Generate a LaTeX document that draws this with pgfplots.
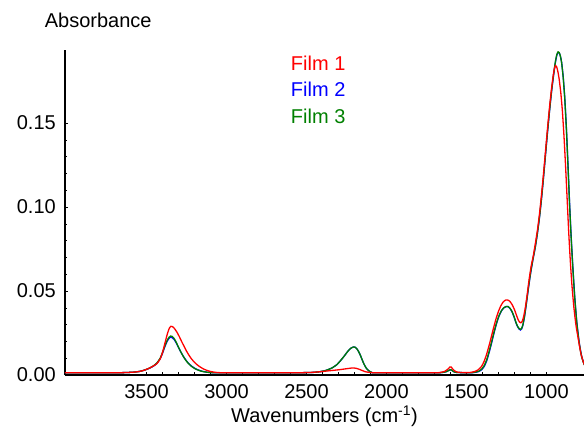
\documentclass[border=0pt]{standalone}
\usepackage{pgfplots}
\pgfplotsset{compat=1.18}
\usepackage{fontspec}
\setmainfont{Liberation Sans}
\definecolor{filmred}{RGB}{255,0,0}
\definecolor{filmblue}{RGB}{0,0,255}
\definecolor{filmgreen}{RGB}{0,128,0}
\begin{document}
\begin{tikzpicture}[font=\fontsize{20bp}{24bp}\selectfont]
\path[use as bounding box] (0,0) rectangle (584bp,428bp);
\begin{axis}[
  at={(65bp,53bp)}, anchor=south west,
  scale only axis, width=519bp, height=325bp,
  x dir=reverse, xmin=765, xmax=4010, ymin=0, ymax=0.1935,
  axis x line*=bottom, axis y line*=left,
  axis line style={line width=2.2bp, -},
  clip=true,
  xtick={1000,1500,2000,2500,3000,3500},
  minor x tick num=4,
  ytick={0,0.05,0.10,0.15},
  minor y tick num=4,
  tick align=inside,
  major tick length=3bp, minor tick length=2.5bp,
  tick style={black, line width=0.6bp},
  /pgf/number format/assume math mode=true,
  xticklabel shift=9bp,
  x tick label style={/pgf/number format/set thousands separator={}, inner sep=0pt, anchor=north},
  y tick label style={/pgf/number format/fixed, /pgf/number format/fixed zerofill, /pgf/number format/precision=2, inner sep=0pt, anchor=east, xshift=-9bp},
  scaled y ticks=false,
  xlabel={Wavenumbers (cm\textsuperscript{-1})},
  ylabel={Absorbance},
  every axis x label/.style={at={(axis description cs:0.5,-0.127)}, anchor=center},
  every axis y label/.style={at={(axis description cs:0.064,1.092)}, anchor=center},
  legend style={at={(axis description cs:0.435,0.982)}, anchor=north west, draw=none, fill=none, inner sep=0pt, row sep=12.5bp, nodes={inner sep=0pt, text height=14bp, text depth=0pt}},
  legend cell align=left,
  every axis plot/.append style={line width=1.3bp},
]
\addlegendimage{empty legend}\addlegendentry{\textcolor{filmred}{Film 1}}
\addlegendimage{empty legend}\addlegendentry{\textcolor{filmblue}{Film 2}}
\addlegendimage{empty legend}\addlegendentry{\textcolor{filmgreen}{Film 3}}
% Film 2 (blue)
\addplot[filmblue, smooth, tension=0.3, forget plot] coordinates {
(4050,0.0013) (3800,0.0013) (3650,0.0014) (3580,0.0017) (3540,0.0022) (3510,0.003) (3480,0.0041) (3455,0.0054) (3435,0.0070) (3415,0.0097) (3400,0.0130) (3385,0.0170) (3372,0.0199) (3360,0.0218) (3350,0.0225) (3340,0.0223) (3328,0.0212) (3315,0.0192) (3300,0.0163) (3285,0.0136) (3270,0.0111) (3255,0.0090) (3240,0.0072) (3220,0.0054) (3200,0.0041) (3180,0.0031) (3155,0.0023) (3125,0.0017) (3090,0.0014) (3000,0.0013) (2600,0.0013) (2470,0.0015) (2420,0.0019) (2380,0.0027) (2340,0.0042) (2310,0.0062) (2285,0.0088) (2260,0.0118) (2240,0.0143) (2222,0.0160) (2207,0.0167) (2195,0.0165) (2182,0.0152) (2168,0.0128) (2155,0.0098) (2142,0.0068) (2128,0.0043) (2112,0.0026) (2095,0.0017) (2070,0.0013) (1700,0.0013) (1650,0.0015) (1625,0.0020) (1610,0.0027) (1600,0.0031) (1592,0.0028) (1580,0.0020) (1560,0.0015) (1480,0.0013) (1450,0.0015) (1425,0.0020) (1405,0.0031) (1388,0.0052) (1372,0.0088) (1357,0.0138) (1342,0.0193) (1327,0.0252) (1312,0.0305) (1297,0.0349) (1282,0.0380) (1267,0.0399) (1252,0.0407) (1240,0.0407) (1228,0.0397) (1215,0.0376) (1202,0.0345) (1190,0.0310) (1180,0.0287) (1170,0.0273) (1162,0.0268) (1155,0.0274) (1147,0.0296) (1137,0.0346) (1125,0.0426) (1112,0.0520) (1098,0.0610) (1084,0.0688) (1070,0.0758) (1057,0.0838) (1044,0.0932) (1032,0.1036) (1020,0.1156) (1007,0.1296) (994,0.1436) (981,0.1566) (968,0.1686) (955,0.1786) (944,0.1860) (935,0.1903) (927,0.1920) (920,0.1918) (913,0.1900) (905,0.1862) (895,0.1776) (885,0.1648) (875,0.1470) (865,0.1252) (855,0.1022) (845,0.0822) (835,0.0650) (823,0.0468) (810,0.0316) (795,0.0194) (780,0.0113) (765,0.0067) (750,0.0041)
};
% Film 3 (green)
\addplot[filmgreen, smooth, tension=0.3, forget plot] coordinates {
(4050,0.0013) (3800,0.0013) (3650,0.0014) (3580,0.0017) (3540,0.0022) (3510,0.003) (3480,0.0042) (3455,0.0056) (3435,0.0072) (3415,0.0100) (3400,0.0135) (3385,0.0175) (3372,0.0205) (3360,0.0224) (3350,0.0232) (3340,0.0230) (3328,0.0218) (3315,0.0196) (3300,0.0165) (3285,0.0136) (3270,0.0110) (3255,0.0088) (3240,0.0070) (3220,0.0052) (3200,0.0039) (3180,0.0030) (3155,0.0022) (3125,0.0017) (3090,0.0014) (3000,0.0013) (2600,0.0013) (2470,0.0015) (2420,0.0019) (2380,0.0027) (2340,0.0042) (2310,0.0062) (2285,0.0088) (2260,0.0118) (2240,0.0143) (2222,0.0160) (2207,0.0167) (2195,0.0165) (2182,0.0152) (2168,0.0128) (2155,0.0098) (2142,0.0068) (2128,0.0043) (2112,0.0026) (2095,0.0017) (2070,0.0013) (1700,0.0013) (1650,0.0015) (1625,0.0020) (1610,0.0028) (1600,0.0032) (1592,0.0029) (1580,0.0020) (1560,0.0015) (1480,0.0013) (1450,0.0016) (1425,0.0022) (1405,0.0035) (1388,0.0058) (1372,0.0095) (1357,0.0145) (1342,0.0200) (1327,0.0258) (1312,0.0310) (1297,0.0352) (1282,0.0382) (1267,0.0400) (1252,0.0408) (1240,0.0408) (1228,0.0398) (1215,0.0378) (1202,0.0347) (1190,0.0312) (1180,0.0290) (1170,0.0276) (1162,0.0272) (1155,0.0278) (1147,0.0300) (1137,0.0350) (1125,0.0430) (1112,0.0525) (1098,0.0615) (1084,0.0690) (1070,0.0760) (1057,0.0840) (1044,0.0935) (1032,0.1040) (1020,0.1160) (1007,0.1300) (994,0.1440) (981,0.1570) (968,0.1690) (955,0.1790) (944,0.1865) (935,0.1908) (927,0.1924) (920,0.1920) (913,0.1900) (905,0.1860) (895,0.1770) (885,0.1640) (875,0.1460) (865,0.1240) (855,0.1010) (845,0.0810) (835,0.0640) (823,0.0460) (810,0.0310) (795,0.0190) (780,0.0110) (765,0.0065) (750,0.0040)
};
% Film 1 (red)
\addplot[filmred, smooth, tension=0.3, forget plot] coordinates {
(4050,0.0013) (3800,0.0013) (3650,0.0014) (3580,0.0017) (3540,0.0022) (3510,0.003) (3480,0.0042) (3455,0.0055) (3435,0.0068) (3415,0.0095) (3400,0.0135) (3385,0.019) (3370,0.0245) (3358,0.0278) (3348,0.0290) (3338,0.0288) (3325,0.0276) (3310,0.0255) (3295,0.0228) (3280,0.0198) (3265,0.0170) (3250,0.0142) (3235,0.0118) (3220,0.0097) (3200,0.0075) (3180,0.0058) (3160,0.0045) (3140,0.0034) (3115,0.0025) (3090,0.0019) (3060,0.0015) (3000,0.0013) (2600,0.0013) (2480,0.0015) (2420,0.0019) (2360,0.0025) (2300,0.0031) (2260,0.0036) (2230,0.0040) (2210,0.0042) (2190,0.0040) (2170,0.0034) (2150,0.0026) (2130,0.0019) (2100,0.0015) (2050,0.0013) (1700,0.0013) (1660,0.0016) (1635,0.0022) (1615,0.0036) (1603,0.0048) (1595,0.0047) (1585,0.0035) (1570,0.0022) (1550,0.0016) (1500,0.0014) (1470,0.0016) (1445,0.0022) (1425,0.0032) (1405,0.0052) (1390,0.0080) (1375,0.0120) (1360,0.0170) (1345,0.0225) (1330,0.0282) (1315,0.0335) (1300,0.0378) (1285,0.0412) (1270,0.0435) (1255,0.0446) (1243,0.0447) (1230,0.0440) (1215,0.0420) (1200,0.0390) (1188,0.0358) (1177,0.0330) (1168,0.0315) (1160,0.0311) (1152,0.0318) (1143,0.0345) (1132,0.0400) (1120,0.0480) (1108,0.0570) (1095,0.0650) (1082,0.0710) (1068,0.0790) (1055,0.0870) (1042,0.0970) (1030,0.1080) (1018,0.1200) (1005,0.1340) (992,0.1480) (980,0.1600) (968,0.1705) (958,0.1780) (950,0.1825) (943,0.1842) (936,0.1835) (928,0.1805) (920,0.1760) (910,0.1680) (900,0.1570) (890,0.1420) (880,0.1240) (870,0.1040) (860,0.0840) (850,0.0670) (840,0.0530) (828,0.0400) (815,0.0295) (800,0.0210) (785,0.0130) (770,0.0080) (755,0.0045) (740,0.0030)
};
\end{axis}
\end{tikzpicture}
\end{document}
